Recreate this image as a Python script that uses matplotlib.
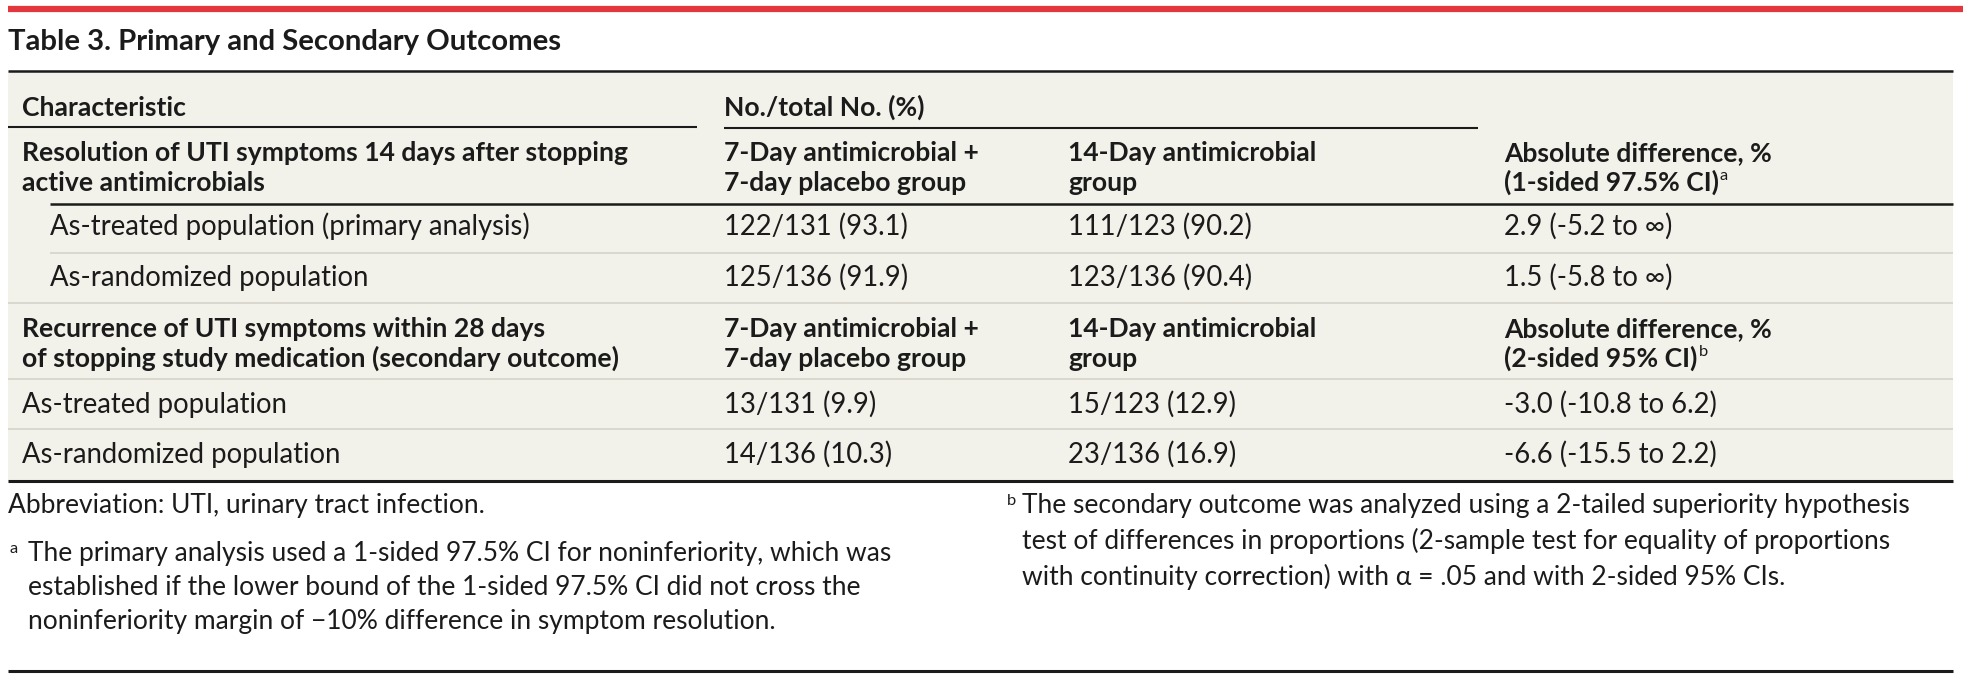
import matplotlib
matplotlib.use("Agg")
import matplotlib.pyplot as plt

plt.rcParams['font.family'] = ['Lato', 'DejaVu Sans']

# --- table content ---
title = "Table 3. Primary and Secondary Outcomes"
col_headers = ["Characteristic", "No./total No. (%)"]
group_labels = [["7-Day antimicrobial +", "7-day placebo group"],
                ["14-Day antimicrobial", "group"]]
outcome_labels = [["Resolution of UTI symptoms 14 days after stopping", "active antimicrobials"],
                  ["Recurrence of UTI symptoms within 28 days", "of stopping study medication (secondary outcome)"]]
diff_labels = [["Absolute difference, %", "(1-sided 97.5% CI)"],
               ["Absolute difference, %", "(2-sided 95% CI)"]]
diff_marks = ["a", "b"]
populations = [["As-treated population (primary analysis)", "As-randomized population"],
               ["As-treated population", "As-randomized population"]]
seven_day = [["122/131 (93.1)", "125/136 (91.9)"],
             ["13/131 (9.9)", "14/136 (10.3)"]]
fourteen_day = [["111/123 (90.2)", "123/136 (90.4)"],
                ["15/123 (12.9)", "23/136 (16.9)"]]
abs_diff = [["2.9 (-5.2 to \u221e)", "1.5 (-5.8 to \u221e)"],
            ["-3.0 (-10.8 to 6.2)", "-6.6 (-15.5 to 2.2)"]]
abbreviation = "Abbreviation: UTI, urinary tract infection."
note_a = ["The primary analysis used a 1-sided 97.5% CI for noninferiority, which was",
          "established if the lower bound of the 1-sided 97.5% CI did not cross the",
          "noninferiority margin of \u221210% difference in symptom resolution."]
note_b = ["The secondary outcome was analyzed using a 2-tailed superiority hypothesis",
          "test of differences in proportions (2-sample test for equality of proportions",
          "with continuity correction) with \u03b1 = .05 and with 2-sided 95% CIs."]

RED = "#e2373d"
BEIGE = "#f3f2ea"
GRID = "#d8d5cb"
INK = "#1b1b1b"

W, H = 1963, 679
fig = plt.figure(figsize=(W / 100, H / 100), dpi=100)
ax = fig.add_axes([0, 0, 1, 1])
ax.set_xlim(0, W)
ax.set_ylim(H, 0)
ax.axis('off')
renderer = fig.canvas.get_renderer()


def width_px(s, size, weight='normal'):
    t = ax.text(0, 0, s, fontsize=size, fontweight=weight)
    w = t.get_window_extent(renderer).width
    t.remove()
    return w


# font sizes matched to the widths measured on the reference
fs_title = 20 * 552 / width_px(title, 20, 'bold')
fs_bold = 20 * 605 / width_px(outcome_labels[0][0], 20, 'bold')
fs_body = 20 * 482 / width_px(populations[0][0], 20)
fs_note = 20 * 865 / width_px(note_a[0], 20)


def put(x, y, s, size, weight='normal'):
    return ax.text(x, y, s, fontsize=size, fontweight=weight, color=INK,
                   va='baseline', ha='left')


def sup_after(t, s, size):
    bb = t.get_window_extent(renderer)
    x = ax.transData.inverted().transform((bb.x1 + 1, 0))[0]
    y = t.get_position()[1] - 0.42 * size * 100 / 72
    ax.text(x, y, s, fontsize=size * 0.62, color=INK, va='baseline', ha='left')


# --- rules and background ---
x0, x1 = 8, 1953
ax.hlines(9, x0, W, color=RED, lw=4.5)
ax.add_patch(plt.Rectangle((x0, 71), x1 - x0, 410, color=BEIGE, lw=0, zorder=0))
ax.hlines(71, x0, x1, color=INK, lw=1.8)
ax.hlines(127, x0, 697, color=INK, lw=1.5)
ax.hlines(128, 724, 1478, color=INK, lw=1.5)
ax.hlines(204, 50, x1, color=INK, lw=1.8)
ax.hlines(253, 50, x1, color=GRID, lw=1.3)
for y in [303, 379, 429]:
    ax.hlines(y, x0, x1, color=GRID, lw=1.3)
ax.hlines(481, x0, x1, color=INK, lw=2.2)
ax.hlines(671, x0, x1, color=INK, lw=2.2)

# --- title and top header ---
put(8, 50, title, fs_title, 'bold')
put(22, 116, col_headers[0], fs_bold, 'bold')
put(724, 116, col_headers[1], fs_bold, 'bold')

col_x = [724, 1068, 1504]
header_base = [161, 337]
row_base = [[235, 286], [413, 463]]
row_x = [50, 22]

for k in range(2):
    yb = header_base[k]
    for j, line in enumerate(outcome_labels[k]):
        put(22, yb + 30 * j, line, fs_bold, 'bold')
    for g in range(2):
        for j, line in enumerate(group_labels[g]):
            put(col_x[g], yb + 30 * j, line, fs_bold, 'bold')
    put(col_x[2], yb, diff_labels[k][0], fs_bold, 'bold')
    t = put(col_x[2], yb + 30, diff_labels[k][1], fs_bold, 'bold')
    sup_after(t, diff_marks[k], fs_bold)
    for r in range(2):
        y = row_base[k][r]
        put(row_x[k], y, populations[k][r], fs_body)
        put(col_x[0], y, seven_day[k][r], fs_body)
        put(col_x[1], y, fourteen_day[k][r], fs_body)
        put(col_x[2], y, abs_diff[k][r], fs_body)

# --- footnotes ---
put(8, 513, abbreviation, fs_note)
for j, line in enumerate(note_a):
    put(28, 561 + 34 * j, line, fs_note)
ax.text(9, 553, "a", fontsize=fs_note * 0.62, color=INK, va='baseline')
for j, line in enumerate(note_b):
    put(1022, 513 + 36 * j, line, fs_note)
ax.text(1007, 505, "b", fontsize=fs_note * 0.62, color=INK, va='baseline')

fig.savefig("out.png", dpi=100, facecolor="white")
